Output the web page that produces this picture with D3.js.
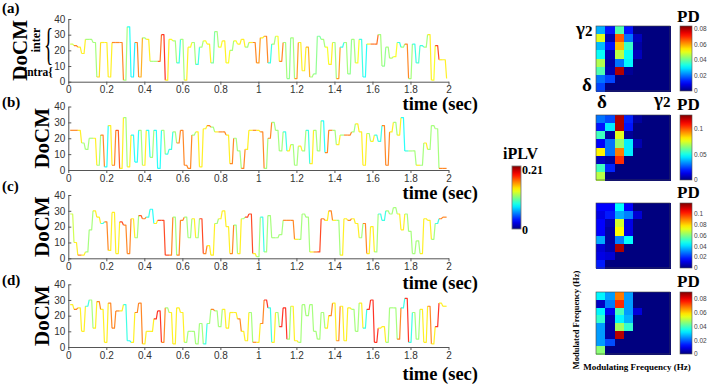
<!DOCTYPE html>
<html><head><meta charset="utf-8">
<script src="https://cdn.jsdelivr.net/npm/d3@7/dist/d3.min.js"></script>
<style>body{margin:0;background:#fff}svg{display:block}</style>
</head><body>
<svg id="c" width="709" height="384"></svg>
<script>
// ---------- DATA ----------
const times = [0.01,0.03,0.05,0.07,0.09,0.11,0.13,0.15,0.17,0.19,0.21,0.23,0.25,0.27,0.29,0.31,0.33,0.35,0.37,0.39,
0.41,0.43,0.45,0.47,0.49,0.51,0.53,0.55,0.57,0.59,0.61,0.63,0.65,0.67,0.69,0.71,0.73,0.75,0.77,0.79,
0.81,0.83,0.85,0.87,0.89,0.91,0.93,0.95,0.97,0.99,1.01,1.03,1.05,1.07,1.09,1.11,1.13,1.15,1.17,1.19,
1.21,1.23,1.25,1.27,1.29,1.31,1.33,1.35,1.37,1.39,1.41,1.43,1.45,1.47,1.49,1.51,1.53,1.55,1.57,1.59,
1.61,1.63,1.65,1.67,1.69,1.71,1.73,1.75,1.77,1.79,1.81,1.83,1.85,1.87,1.89,1.91,1.93,1.95,1.97,1.99];

const docmA = [24,23,22,18,27,27,25,3,25,25, 3,25,25,25,1,35,3,25,3,28, 27,13,13,13,30,1,27,26,12,27,
1,22,25,11,22,26,24,12,32,22, 26,12,20,26,24,27,22,25,25,12, 28,29,12,24,29,13,25,2,28,2,
25,7,22,3,5,29,27,22,11,25, 2,22,25,5,27,12,27,3,24,24, 24,30,10,22,15,16,25,22,24,2, 24,12,23,22,30,1,23,14,14,2];
const iplvA = [0.12,0.16,0.135,0.135,0.11,0.11,0.11,0.14,0.135,0.135, 0.135,0.16,0.16,0.16,0.11,0.08,0.075,0.16,0.15,0.11,
0.135,0.11,0.11,0.165,0.18,0.135,0.13,0.11,0.085,0.11, 0.135,0.13,0.11,0.085,0.11,0.13,0.135,0.1,0.11,0.13,
0.135,0.13,0.11,0.13,0.135,0.135,0.11,0.135,0.16,0.155, 0.135,0.16,0.085,0.11,0.13,0.16,0.11,0.105,0.11,0.155,
0.135,0.135,0.15,0.11,0.105,0.1,0.11,0.13,0.135,0.11, 0.155,0.085,0.11,0.105,0.11,0.13,0.085,0.08,0.135,0.165,
0.165,0.11,0.105,0.11,0.115,0.13,0.085,0.11,0.16,0.11, 0.085,0.09,0.085,0.11,0.135,0.13,0.175,0.135,0.135,0.13];

const docmB = [25,25,25,17,13,20,20,3,22,2, 28,3,25,1,33,2,22,5,25,3, 25,8,25,1,25,10,13,24,17,25,
3,1,22,24,2,26,28,27,24,24, 24,22,4,20,12,1,13,25,25,25, 24,1,20,30,25,12,24,12,16,3,
15,12,25,4,25,12,31,11,25,25, 16,22,22,22,24,29,24,3,23,18, 22,18,28,3,24,30,22,33,12,12, 12,3,3,17,13,28,26,1,1,1];
const iplvB = [0.16,0.16,0.135,0.11,0.11,0.11,0.135,0.11,0.16,0.08, 0.135,0.16,0.17,0.135,0.11,0.135,0.08,0.08,0.11,0.135,
0.08,0.11,0.08,0.08,0.11,0.085,0.085,0.11,0.16,0.16, 0.16,0.16,0.11,0.135,0.135,0.135,0.16,0.11,0.135,0.16,
0.16,0.135,0.16,0.11,0.11,0.16,0.135,0.135,0.16,0.135, 0.16,0.11,0.16,0.11,0.11,0.11,0.085,0.135,0.11,0.11,
0.135,0.11,0.085,0.135,0.11,0.11,0.08,0.16,0.16,0.11, 0.135,0.11,0.16,0.16,0.11,0.135,0.135,0.135,0.11,0.135,
0.085,0.085,0.16,0.16,0.135,0.11,0.135,0.08,0.085,0.11, 0.11,0.135,0.11,0.135,0.11,0.11,0.11,0.16,0.16,0.16];

const docmC = [28,10,2,2,4,18,30,26,22,23, 5,29,3,23,21,3,25,13,27,25, 26,31,22,24,24,2,2,26,2,24,
26,13,25,13,25,3,8,2,22,25, 30,20,3,21,3,25,26,28,3,1, 26,4,27,13,13,15,24,24,24,12,
12,28,26,4,4,4,25,24,30,24, 24,2,25,24,25,22,13,22,3,20, 4,28,24,30,28,32,28,18,28,17, 3,11,3,25,24,12,22,25,26,26];
const iplvC = [0.12,0.135,0.16,0.135,0.11,0.11,0.135,0.135,0.085,0.16, 0.135,0.135,0.135,0.175,0.16,0.16,0.135,0.11,0.17,0.16,
0.085,0.08,0.135,0.175,0.175,0.175,0.16,0.11,0.16,0.16, 0.11,0.11,0.135,0.11,0.175,0.16,0.135,0.135,0.11,0.135,
0.135,0.135,0.16,0.11,0.135,0.11,0.175,0.175,0.135,0.11, 0.085,0.11,0.11,0.11,0.11,0.11,0.16,0.16,0.16,0.135,
0.11,0.11,0.11,0.135,0.16,0.175,0.16,0.135,0.16,0.135, 0.11,0.135,0.135,0.16,0.135,0.135,0.11,0.16,0.135,0.135,
0.11,0.085,0.085,0.11,0.11,0.11,0.135,0.135,0.11,0.11, 0.11,0.11,0.135,0.135,0.135,0.11,0.085,0.16,0.16,0.16];

const docmD = [27,24,25,10,26,30,12,29,24,3, 28,12,23,23,27,4,3,22,28,2, 10,10,18,23,3,25,22,2,25,22,
3,10,10,2,15,2,15,24,23,13, 24,12,22,22,18,10,4,22,3,3, 15,30,25,3,22,13,25,5,26,4,
3,27,20,27,10,5,22,12,20,28, 4,26,4,25,24,10,28,12,24,30, 3,12,13,3,25,25,5,25,31,3, 22,5,24,3,26,2,13,28,26,26];
const iplvD = [0.135,0.16,0.135,0.135,0.085,0.11,0.135,0.16,0.135,0.135, 0.16,0.16,0.16,0.135,0.085,0.08,0.135,0.16,0.16,0.135,
0.135,0.135,0.18,0.18,0.16,0.11,0.135,0.135,0.135,0.135, 0.11,0.11,0.11,0.11,0.11,0.085,0.11,0.16,0.11,0.11,
0.135,0.135,0.135,0.135,0.16,0.135,0.135,0.11,0.16,0.135, 0.16,0.18,0.085,0.135,0.11,0.18,0.18,0.11,0.135,0.135,
0.11,0.11,0.11,0.11,0.11,0.11,0.11,0.135,0.16,0.135, 0.16,0.135,0.135,0.135,0.11,0.11,0.135,0.085,0.18,0.18,
0.18,0.135,0.135,0.11,0.11,0.11,0.16,0.085,0.18,0.085, 0.11,0.11,0.135,0.135,0.16,0.135,0.18,0.135,0.135,0.135];

const xTicks = [0,0.2,0.4,0.6,0.8,1,1.2,1.4,1.6,1.8,2];
const yTicks = [0,10,20,30,40];
const panelLabels = ["(a)","(b)","(c)","(d)"];
const iplvMax = 0.21;

const heat1 = [[0.025,0.012,0.038,0.012,0,0,0,0],[0.05,0.004,0.066,0.02,0.005,0,0,0],[0.026,0.012,0.058,0.036,0.003,0,0,0],
[0.032,0.004,0.047,0.032,0.005,0,0,0],[0.046,0.003,0.02,0.031,0,0,0,0],[0.038,0.004,0.08,0.002,0,0,0,0],[0.02,0.016,0,0,0,0,0,0],[0.016,0,0,0,0,0,0,0]];
const heat2 = [[0.03,0.025,0.12,0.02,0.004,0,0,0],[0.018,0.045,0.12,0.018,0,0,0,0],[0.055,0.004,0.075,0.003,0,0,0,0],
[0.015,0.03,0.065,0.045,0.006,0,0,0],[0.08,0.03,0.095,0.045,0,0,0,0],[0.008,0.004,0.105,0,0,0,0,0],[0.055,0.02,0,0,0,0,0,0],[0.07,0,0,0,0,0,0,0]];
const heat3 = [[0.015,0.015,0.045,0.015,0,0,0,0],[0.012,0.018,0.035,0.03,0.01,0,0,0],[0.015,0.006,0.07,0.012,0,0,0,0],
[0.015,0.004,0.075,0.012,0,0,0,0],[0.035,0.004,0.03,0.045,0,0,0,0],[0.01,0.005,0.115,0,0,0,0,0],[0.012,0.01,0,0,0,0,0,0],[0.018,0,0,0,0,0,0,0]];
const heat4 = [[0.033,0.025,0.068,0.025,0,0,0,0],[0.006,0.022,0.075,0.025,0,0,0,0],[0.033,0.01,0.04,0.025,0.008,0,0,0],
[0.038,0.004,0.033,0.027,0,0,0,0],[0.025,0.003,0.048,0.038,0,0,0,0],[0.025,0.003,0.085,0,0,0,0,0],[0.025,0.018,0,0,0,0,0,0],[0.046,0,0,0,0,0,0,0]];
const pdMax = [0.084,0.126,0.12,0.09];
const pdTicks = [[0,0.02,0.04,0.06,0.08],[0,0.05,0.1],[0,0.02,0.04,0.06,0.08,0.1],[0,0.02,0.04,0.06,0.08]];

// ---------- DRAW ----------
const svg = d3.select("#c");
const serif = "'Liberation Serif','Times New Roman',serif";
const sans = "'Liberation Sans',Arial,sans-serif";
const jetStops = [0,0.125,0.375,0.625,0.875,1];
const jetCols = ["#00007f","#0000ff","#00ffff","#ffff00","#ff0000","#7f0000"];
const jet = d3.scaleLinear().domain(jetStops).range(jetCols).interpolate(d3.interpolateRgb).clamp(true);

const series = [[docmA,iplvA],[docmB,iplvB],[docmC,iplvC],[docmD,iplvD]];
const layout = [
  {top:19, bot:81.7, lab:13, time:110, docmX:27},
  {top:106.5, bot:170, lab:107, time:199, docmX:49},
  {top:195, bot:258.3, lab:191, time:289, docmX:49},
  {top:284.3, bot:347, lab:285, time:380, docmX:49}
];
const x = d3.scaleLinear().domain([0,2]).range([68.3,448.5]);

series.forEach((s,k)=>{
  const L = layout[k];
  const y = d3.scaleLinear().domain([0,40]).range([L.bot,L.top]);
  const g = svg.append("g");
  const line = d3.line().x(d=>x(d[0])).y(d=>y(d[1]));
  const [vals, pl] = s;
  for(let i=0;i<vals.length-1;i++){
    const pts=[[times[i],vals[i]],[times[i]+0.013,vals[i]],[times[i+1],vals[i+1]]];
    g.append("path").attr("d",line(pts)).attr("fill","none")
     .attr("stroke",jet(pl[i]/iplvMax)).attr("stroke-width",1.2).attr("stroke-opacity",0.85)
     .attr("stroke-linejoin","round");
  }
  const xa = svg.append("g").attr("transform",`translate(0,${L.bot})`)
    .call(d3.axisBottom(x).tickValues(xTicks).tickSize(3).tickSizeOuter(0).tickPadding(1.5).tickFormat(d3.format("")));
  const ya = svg.append("g").attr("transform",`translate(${x(0)},0)`)
    .call(d3.axisLeft(y).tickValues(yTicks).tickSize(-3).tickSizeOuter(0).tickPadding(3));
  [xa,ya].forEach(a=>{
    a.select(".domain").attr("stroke","#555");
    a.selectAll("line").attr("stroke","#555");
    a.selectAll("text").attr("font-family",sans).attr("font-size",10).attr("fill","#333");
  });
  svg.append("text").attr("x",2).attr("y",L.lab).text(panelLabels[k])
    .attr("font-family",serif).attr("font-weight","bold").attr("font-size",15);
  svg.append("text").attr("x",478).attr("y",L.time).attr("text-anchor","end").text("time (sec)")
    .attr("font-family",serif).attr("font-weight","bold").attr("font-size",18.5);
  svg.append("text").attr("transform",`translate(${L.docmX},${(L.top+L.bot)/2})rotate(-90)`)
    .attr("text-anchor","middle").text("DoCM")
    .attr("font-family",serif).attr("font-weight","bold").attr("font-size",21);
});

// inter / intra annotations for (a)
svg.append("text").attr("transform","translate(40,40)rotate(-90)").attr("text-anchor","middle").text("inter")
  .attr("font-family",serif).attr("font-weight","bold").attr("font-size",12);
svg.append("text").attr("transform","translate(44,59)scale(1,2.3)").text("{")
  .attr("font-family",serif).attr("font-size",19);
svg.append("text").attr("x",24).attr("y",76).text("intra{")
  .attr("font-family",serif).attr("font-weight","bold").attr("font-size",11.5);

// iPLV colorbar
const defs = svg.append("defs");
function jetGrad(id){
  const gr = defs.append("linearGradient").attr("id",id).attr("x1",0).attr("y1",1).attr("x2",0).attr("y2",0);
  d3.range(0,1.0001,0.05).forEach(t=>gr.append("stop").attr("offset",t).attr("stop-color",jet(t)));
}
jetGrad("jetg");
const cbY = d3.scaleLinear().domain([0,iplvMax]).range([229,166]);
svg.append("rect").attr("x",512).attr("y",cbY(iplvMax)).attr("width",9).attr("height",cbY(0)-cbY(iplvMax))
  .attr("fill","url(#jetg)").attr("stroke","#777").attr("stroke-width",0.8);
svg.append("text").attr("x",503).attr("y",159).text("iPLV").attr("font-family",serif).attr("font-weight","bold").attr("font-size",16);
svg.append("text").attr("x",522).attr("y",cbY(iplvMax)+8).text("0.21").attr("font-family",serif).attr("font-weight","bold").attr("font-size",12);
svg.append("text").attr("x",522).attr("y",cbY(0)+5).text("0").attr("font-family",serif).attr("font-weight","bold").attr("font-size",12);

// heatmaps
const heats = [heat1,heat2,heat3,heat4];
const hLayout = [{top:26,bot:91,pd:22},{top:115,bot:180,pd:110},{top:203,bot:268,pd:198},{top:292,bot:354,pd:287}];
const hx = d3.scaleBand().domain(d3.range(8)).range([596,670]);
heats.forEach((h,k)=>{
  const L = hLayout[k];
  const hy = d3.scaleBand().domain(d3.range(8)).range([L.top,L.bot]);
  const c = d3.scaleLinear().domain([0,pdMax[k]]);
  const g = svg.append("g").attr("shape-rendering","crispEdges");
  h.forEach((row,r)=>row.forEach((v,ci)=>{
    g.append("rect").attr("x",hx(ci)).attr("y",hy(r)).attr("width",hx.bandwidth()+0.5).attr("height",hy.bandwidth()+0.5)
      .attr("fill",jet(c(v)));
  }));
  svg.append("rect").attr("x",596).attr("y",L.top).attr("width",74).attr("height",L.bot-L.top)
    .attr("fill","none").attr("stroke","#444").attr("stroke-width",0.6);
  const cy = d3.scaleLinear().domain([0,pdMax[k]]).range([L.bot,L.top]);
  svg.append("rect").attr("x",680).attr("y",L.top).attr("width",12).attr("height",L.bot-L.top)
    .attr("fill","url(#jetg)").attr("stroke","#555").attr("stroke-width",0.6);
  pdTicks[k].forEach(t=>{
    svg.append("text").attr("x",694).attr("y",cy(t)+2.3).text(d3.format("")(t))
      .attr("font-family",sans).attr("font-size",6.5).attr("fill","#444");
  });
  svg.append("text").attr("x",677).attr("y",L.pd).text("PD")
    .attr("font-family",serif).attr("font-weight","bold").attr("font-size",17);
});

// frequency labels
svg.append("text").attr("x",576).attr("y",35).html("γ<tspan font-size='15' dy='1'>2</tspan>")
  .attr("font-family",serif).attr("font-weight","bold").attr("font-size",19);
svg.append("text").attr("x",582).attr("y",91).text("δ")
  .attr("font-family",serif).attr("font-weight","bold").attr("font-size",19);
svg.append("text").attr("x",597).attr("y",108).text("δ")
  .attr("font-family",serif).attr("font-weight","bold").attr("font-size",19);
svg.append("text").attr("x",654).attr("y",106).html("γ<tspan font-size='15' dy='1'>2</tspan>")
  .attr("font-family",serif).attr("font-weight","bold").attr("font-size",19);
svg.append("text").attr("x",637).attr("y",370).attr("text-anchor","middle").text("Modulating Frequency (Hz)")
  .attr("font-family",serif).attr("font-weight","bold").attr("font-size",9);
svg.append("text").attr("transform","translate(579,320)rotate(-90)").attr("text-anchor","middle").text("Modulated Frequency (Hz)")
  .attr("font-family",serif).attr("font-weight","bold").attr("font-size",8.5);
</script>
</body></html>
